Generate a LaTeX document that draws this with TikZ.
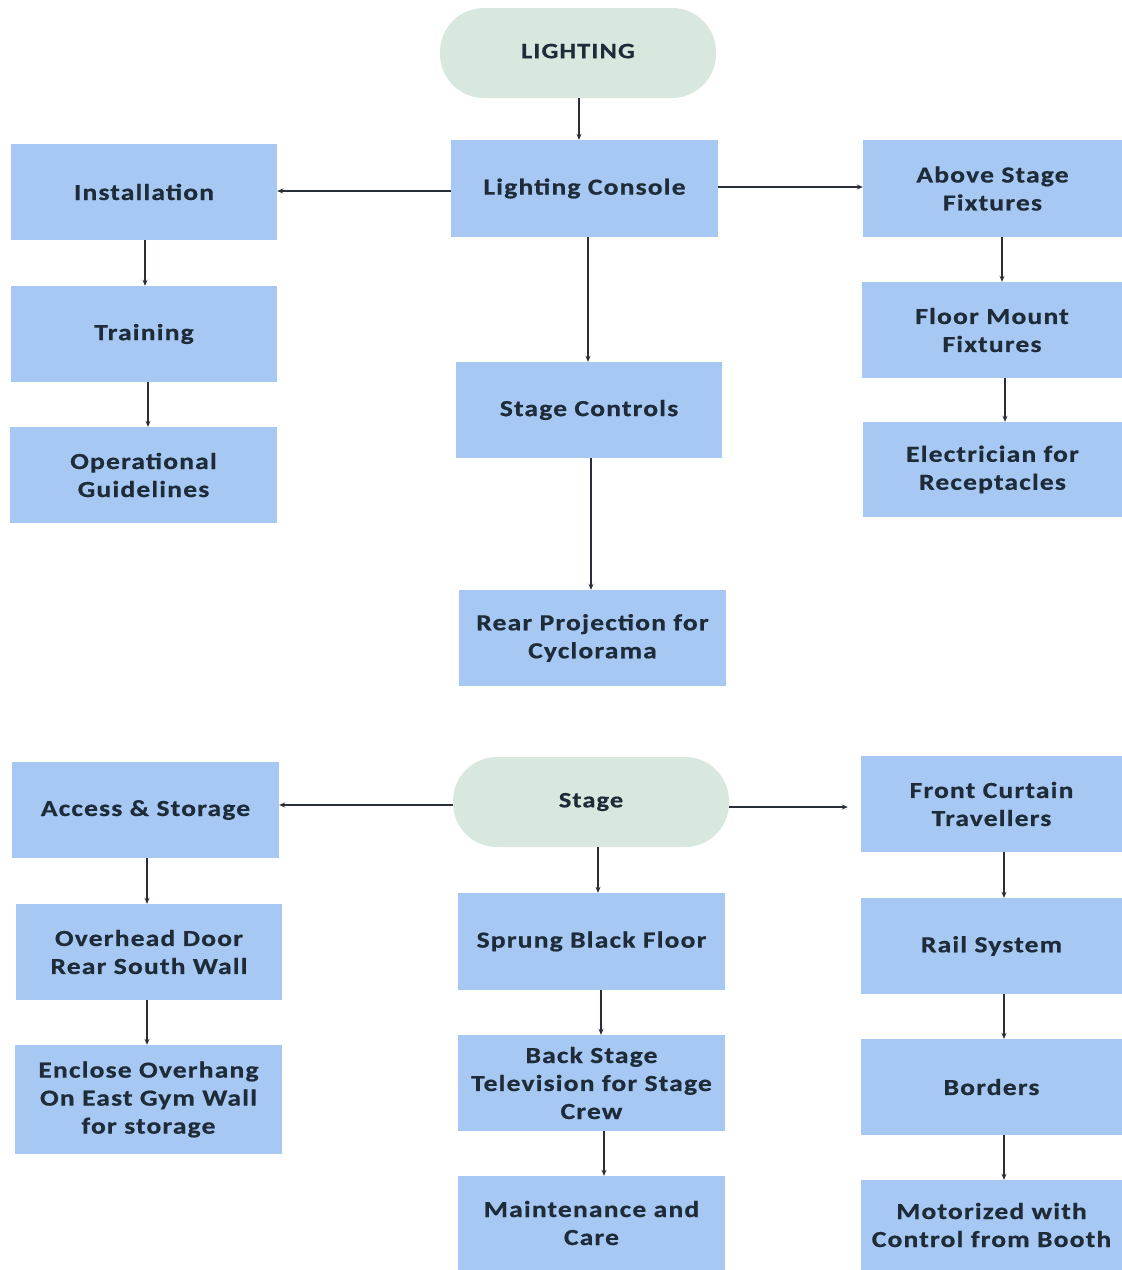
\documentclass[tikz,border=0pt]{standalone}
\usepackage{fontspec}
\setmainfont{Carlito}
\newfontfamily\boxfont{Carlito}[FakeStretch=1.2, LetterSpace=5, FakeBold=0.6]
\usetikzlibrary{arrows.meta}
\definecolor{boxblue}{HTML}{A6C8F2}
\definecolor{pillgreen}{HTML}{D9E8DF}
\definecolor{txt}{HTML}{1E2B38}
\definecolor{arrc}{HTML}{2A2E36}
\tikzset{
  bx/.style={rectangle, fill=boxblue, draw=none, inner sep=0pt, align=center,
    text=txt, font=\boxfont\fontsize{23}{28}\selectfont\bfseries},
  pill/.style={rectangle, rounded corners=44pt, fill=pillgreen, draw=none, inner sep=0pt,
    align=center, text=txt, font=\boxfont\fontsize{22}{28}\selectfont\bfseries},
  arr/.style={draw=arrc, line width=1.1pt, -{Stealth[length=6pt,width=5pt]}}
}
\begin{document}
\begin{tikzpicture}[x=1pt,y=-1pt]
\useasboundingbox (0,0) rectangle (1122,1270);
\fill[white] (0,0) rectangle (1122,1270);
% top section
\node[pill, minimum width=276pt, minimum height=90pt] (lighting) at (578,53) {\raisebox{4pt}{LIGHTING}};
\node[bx, minimum width=267pt, minimum height=97pt] (console) at (584.5,188.5) {Lighting Console};
\node[bx, minimum width=266pt, minimum height=96pt] (install) at (144,192) {Installation};
\node[bx, minimum width=266pt, minimum height=96pt] (training) at (144,334) {Training};
\node[bx, minimum width=267pt, minimum height=96pt] (opguide) at (143.5,475) {Operational\\Guidelines};
\node[bx, minimum width=259pt, minimum height=97pt] (above) at (992.5,188.5) {Above Stage\\Fixtures};
\node[bx, minimum width=260pt, minimum height=96pt] (floor) at (992,330) {Floor Mount\\Fixtures};
\node[bx, minimum width=259pt, minimum height=95pt] (elec) at (992.5,469.5) {Electrician for\\Receptacles};
\node[bx, minimum width=266pt, minimum height=96pt] (stagectl) at (589,410) {Stage Controls};
\node[bx, minimum width=267pt, minimum height=96pt] (rear) at (592.5,638) {Rear Projection for\\Cyclorama};
% bottom section
\node[pill, minimum width=276pt, minimum height=90pt] (stage) at (591,802) {\raisebox{2pt}{Stage}};
\node[bx, minimum width=267pt, minimum height=96pt] (access) at (145.5,810) {Access \& Storage};
\node[bx, minimum width=266pt, minimum height=96pt] (overhead) at (149,952) {Overhead Door\\Rear South Wall};
\node[bx, minimum width=267pt, minimum height=109pt] (enclose) at (148.5,1099.5) {Enclose Overhang\\On East Gym Wall\\for storage};
\node[bx, minimum width=261pt, minimum height=96pt] (front) at (991.5,804) {Front Curtain\\Travellers};
\node[bx, minimum width=261pt, minimum height=96pt] (rail) at (991.5,946) {Rail System};
\node[bx, minimum width=261pt, minimum height=96pt] (borders) at (991.5,1087) {Borders};
\node[bx, minimum width=261pt, minimum height=90pt] (motor) at (991.5,1225) {Motorized with\\Control from Booth};
\node[bx, minimum width=267pt, minimum height=97pt] (sprung) at (591.5,941.5) {Sprung Black Floor};
\node[bx, minimum width=267pt, minimum height=96pt] (backstage) at (591.5,1083) {Back Stage\\Television for Stage\\Crew};
\node[bx, minimum width=267pt, minimum height=94pt] (maint) at (591.5,1223) {Maintenance and\\Care};
% connectors top
\draw[arr] ([xshift=1pt]lighting.south) -- ([xshift=-5.5pt]console.north);
\draw[arr] ([yshift=-2.5pt]console.west) -- ([yshift=-2.5pt]console.west -| install.east);
\draw[arr] ([yshift=1.5pt]console.east) -- ([yshift=1.5pt]console.east -| above.west);
\draw[arr] ([xshift=3.5pt]console.south) -- ([xshift=-1pt]stagectl.north);
\draw[arr] ([xshift=2pt]stagectl.south) -- ([xshift=-1.5pt]rear.north);
\draw[arr] ([xshift=1pt]install.south) -- ([xshift=1pt]training.north);
\draw[arr] ([xshift=4pt]training.south) -- ([xshift=4.5pt]opguide.north);
\draw[arr] ([xshift=9.5pt]above.south) -- ([xshift=10pt]floor.north);
\draw[arr] ([xshift=13pt]floor.south) -- ([xshift=12.5pt]elec.north);
% connectors bottom
\draw[arr] ([yshift=-3pt]stage.west) -- ([yshift=-3pt]stage.west -| access.east);
\draw[arr] ([yshift=-5pt]stage.east) -- ([yshift=-5pt,xshift=-13pt]stage.east -| front.west);
\draw[arr] ([xshift=1.5pt]access.south) -- ([xshift=-2pt]overhead.north);
\draw[arr] ([xshift=-2pt]overhead.south) -- ([xshift=-1.5pt]enclose.north);
\draw[arr] ([xshift=7pt]stage.south) -- ([xshift=6.5pt]sprung.north);
\draw[arr] ([xshift=9.5pt]sprung.south) -- ([xshift=9.5pt]backstage.north);
\draw[arr] ([xshift=12.5pt]backstage.south) -- ([xshift=12.5pt]maint.north);
\draw[arr] ([xshift=12.5pt]front.south) -- ([xshift=12.5pt]rail.north);
\draw[arr] ([xshift=12.5pt]rail.south) -- ([xshift=12.5pt]borders.north);
\draw[arr] ([xshift=12.5pt]borders.south) -- ([xshift=12.5pt]motor.north);
\end{tikzpicture}
\end{document}
